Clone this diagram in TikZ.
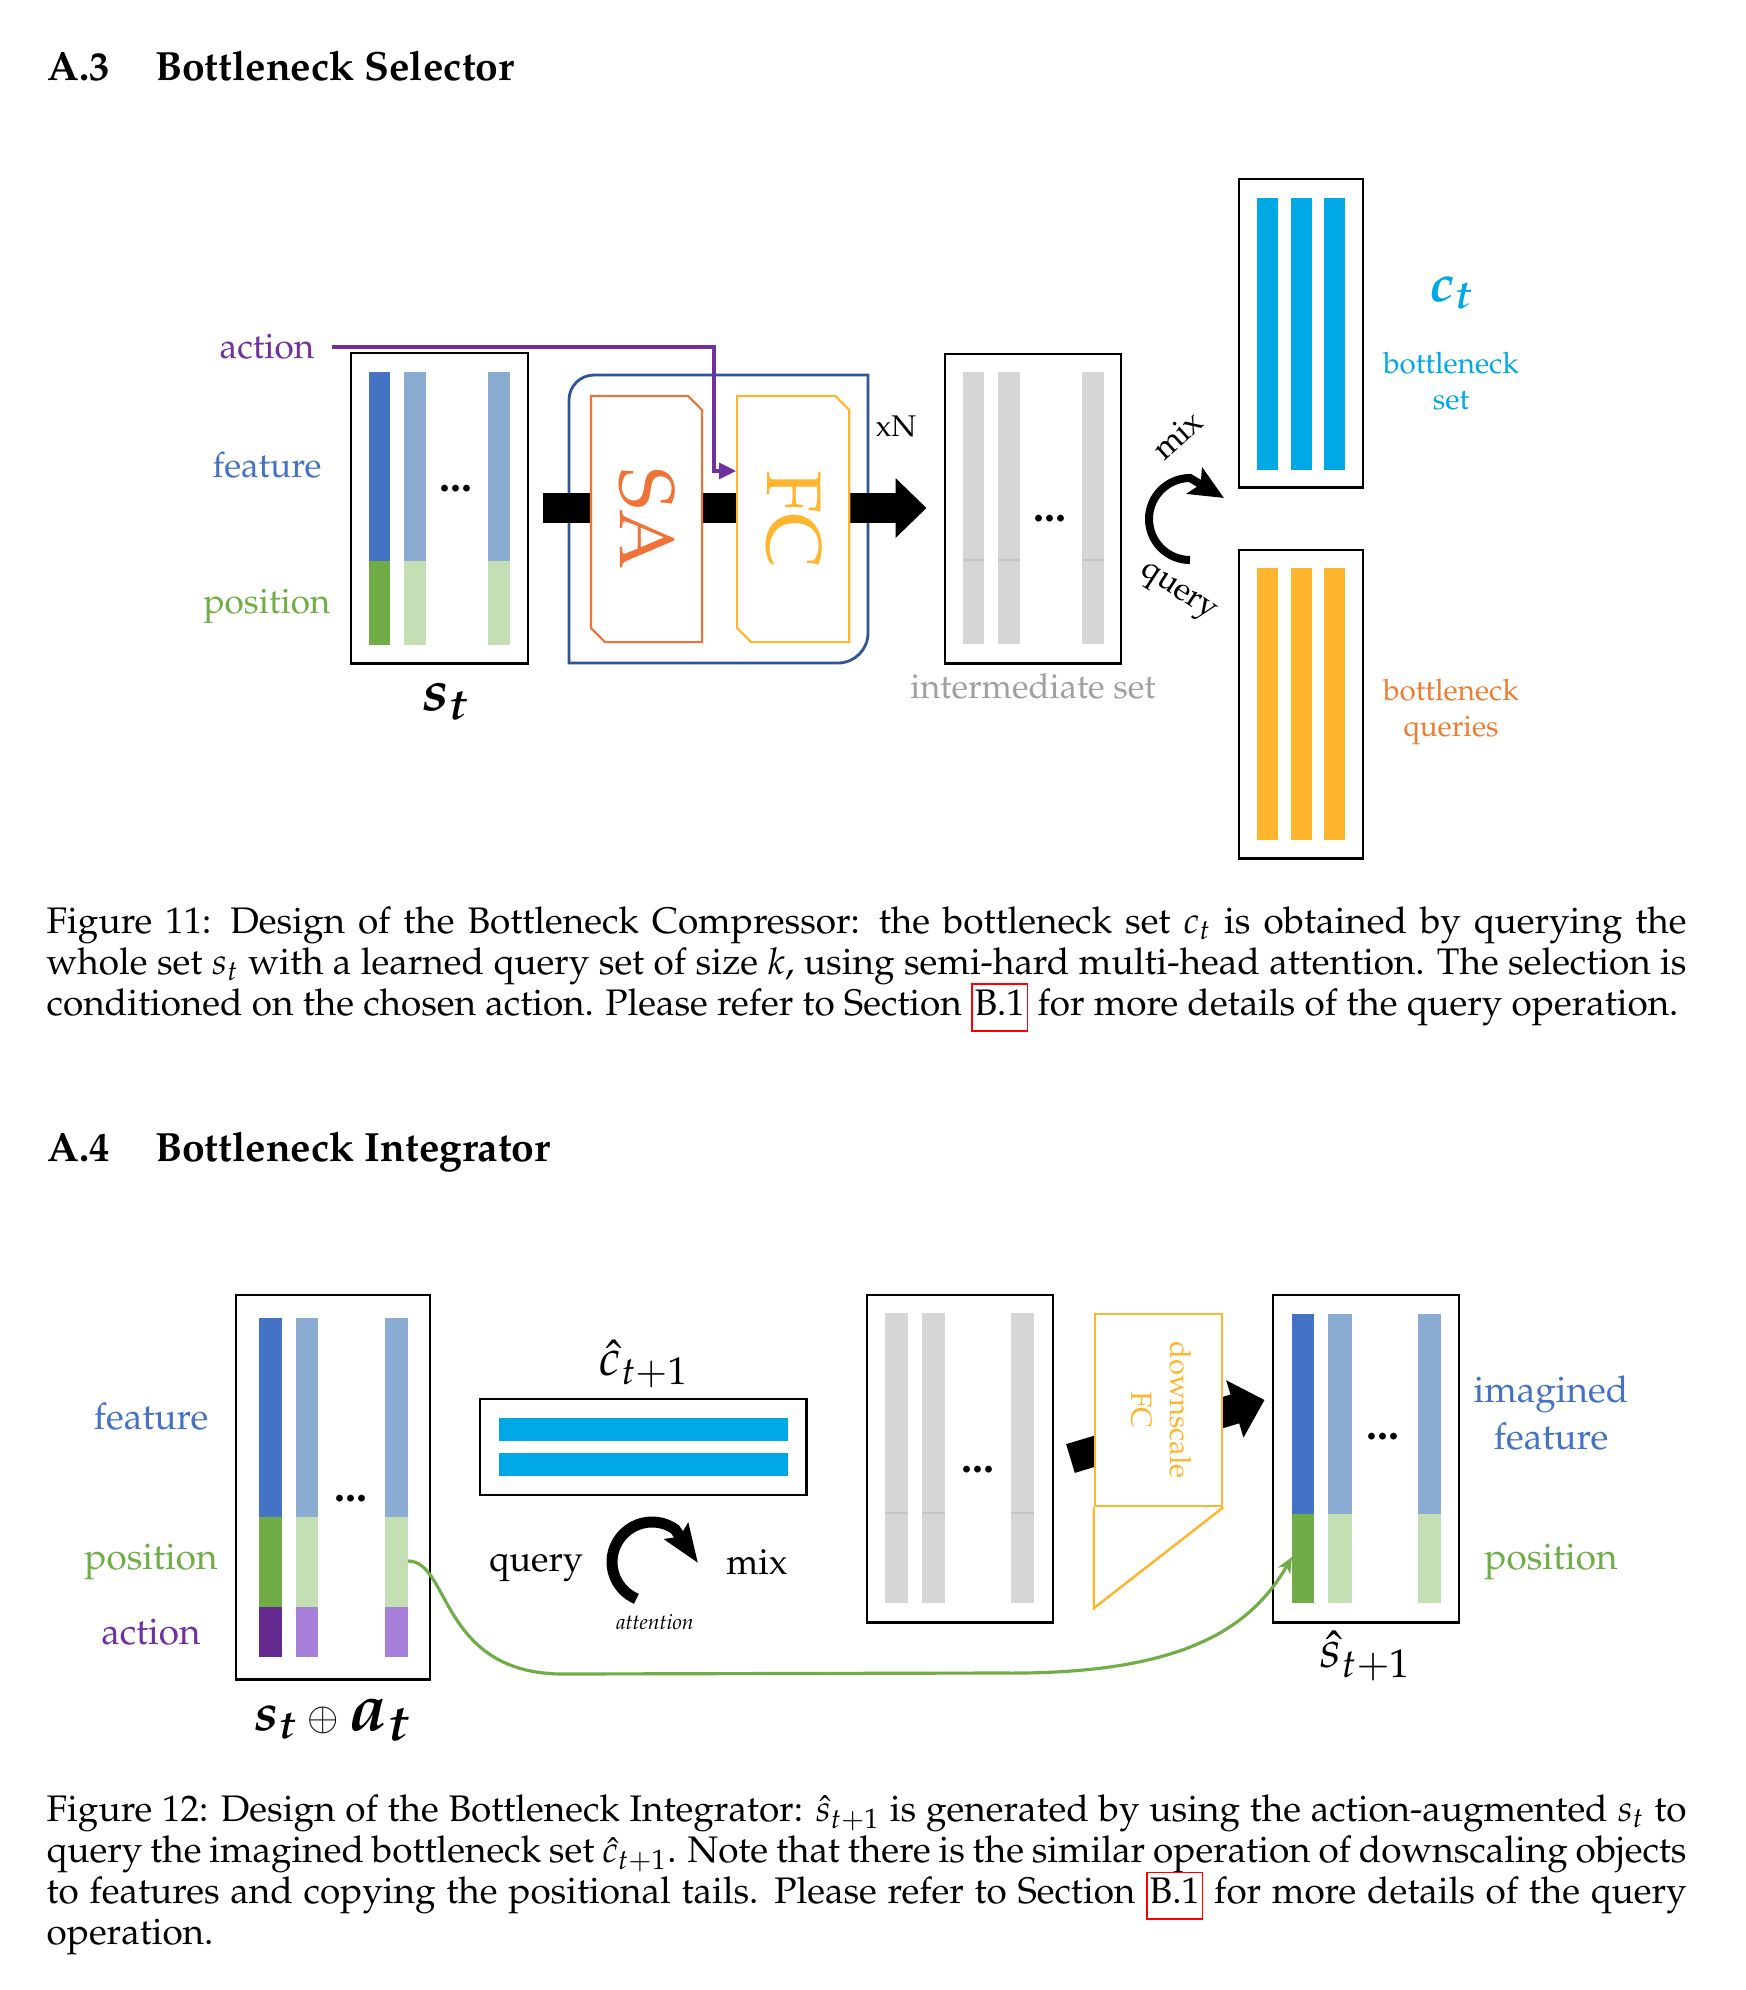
\documentclass[tikz,border=0pt]{standalone}
\usepackage[T1]{fontenc}
\usepackage{mathpazo}
\usepackage{amsmath}
\usetikzlibrary{positioning,arrows.meta,shapes.misc}

\definecolor{featdark}{HTML}{4472C4}
\definecolor{featlight}{HTML}{8AACD2}
\definecolor{posdark}{HTML}{70AD47}
\definecolor{poslight}{HTML}{C5DFB4}
\definecolor{actdark}{HTML}{652A8F}
\definecolor{actlight}{HTML}{A880DA}
\definecolor{actline}{HTML}{7030A0}
\definecolor{cyanset}{HTML}{00A8E6}
\definecolor{qorange}{HTML}{FFB52E}
\definecolor{saorange}{HTML}{F07236}
\definecolor{txtorange}{HTML}{ED7D31}
\definecolor{loopblue}{HTML}{2F5597}
\definecolor{barg}{HTML}{D6D6D6}
\definecolor{barline}{HTML}{C4C4C4}
\definecolor{txtgray}{HTML}{A0A0A0}

\newcommand{\redref}[1]{{\setlength{\fboxsep}{0.5pt}\setlength{\fboxrule}{0.5pt}\smash{\fcolorbox{red}{white}{\strut#1}}}}

\begin{document}
\begin{tikzpicture}[
    x=0.01cm, y=0.01cm,
    node distance=0.2cm,
    setbox/.style={
        draw=black,
        line width=0.8pt,
        inner sep=0pt
    },
    layerbox/.style={
        chamfered rectangle,
        chamfered rectangle corners={north east,south west},
        chamfered rectangle xsep=0.07cm,
        chamfered rectangle ysep=0.07cm,
        fill=white,
        line width=0.6pt,
        minimum width=1.11cm,
        minimum height=2.46cm,
        inner sep=0pt
    },
    bigarrow/.style={
        line width=0.3cm,
        -{Triangle[length=0.31cm,width=0.58cm]}
    },
    lbl/.style={
        inner sep=0pt,
        font=\fontsize{10}{12}\selectfont
    },
    lblb/.style={
        inner sep=0pt,
        font=\fontsize{10.5}{13.4}\selectfont
    },
    caption/.style={
        anchor=north west,
        inner sep=0pt,
        text width=16.39cm,
        align=justify,
        font=\fontsize{10.5}{11.7}\selectfont
    },
    heading/.style={
        anchor=base west,
        inner sep=0pt,
        font=\fontsize{11.6}{14}\selectfont\bfseries
    },
    dots/.style={
        inner sep=0pt,
        font=\fontsize{12.5}{14}\selectfont\bfseries
    }
]
\useasboundingbox (0,0) rectangle (1746,-1990);
\fill[white] (0,0) rectangle (1746,-1990);

% A.3
\node[heading] (hsel) at (47,-80) {A.3\hspace{0.45cm}Bottleneck Selector};

% Set s_t
\node[setbox, minimum width=1.77cm, minimum height=3.10cm] (st) at (439.5,-508) {};
\fill[featdark] (369,-372) rectangle (390,-561);
\fill[posdark] (369,-561) rectangle (390,-645);
\foreach \xa/\xb in {404/426,488/510} {
    \fill[featlight] (\xa,-372) rectangle (\xb,-561);
    \fill[poslight] (\xa,-561) rectangle (\xb,-645);
}
\node[dots] (stdots) at (456,-489) {...};
\node[below=0.18cm of st, xshift=0.06cm, inner sep=0pt, font=\fontsize{16.5}{19}\selectfont] (stlab) {$\boldsymbol{s_t}$};

\node[lbl, text=actline, inner sep=1pt] (act) at (267,-347) {action};
\node[lbl, text=featdark] (feat) at (267,-465) {feature};
\node[lbl, text=posdark] (pos) at (267,-606) {position};

% Intermediate set
\node[setbox, minimum width=1.76cm, minimum height=3.09cm] (inter) at (1033,-508.5) {};
\foreach \xa/\xb in {963/984,998/1020,1082/1104} {
    \fill[barg] (\xa,-372) rectangle (\xb,-644);
    \draw[barline, line width=0.3pt] (\xa,-560) -- (\xb,-560);
}
\node[dots] (interdots) at (1050,-519) {...};
\node[below=0.08cm of inter, inner sep=0pt, text=txtgray, font=\fontsize{9.8}{12}\selectfont] (interlab) {intermediate set};

% Loop frame and flow
\draw[loopblue, line width=0.8pt] (569,-663) -- (569,-400) arc (180:90:25) -- (868,-375) -- (868,-633) arc (0:-90:30) -- cycle;
\draw[bigarrow] ([xshift=0.14cm]st.east) -- ([xshift=-0.17cm]st.east -| inter.west);

\node[layerbox, draw=saorange, text=saorange, font=\fontsize{22}{26}\selectfont] (sa) at (646.5,-519) {\rotatebox{-90}{SA}};
\node[layerbox, draw=qorange, text=qorange, font=\fontsize{22}{26}\selectfont, right=0.33cm of sa, minimum width=1.12cm] (fc) {\rotatebox{-90}{FC}};
\node[font=\fontsize{8.5}{10}\selectfont, inner sep=0pt] (xn) at (896,-426) {xN};

% Action input
\coordinate (actbend) at (714,-347);
\draw[actline, line width=0.9pt, shorten <=0.13cm, -{Triangle[length=0.17cm,width=0.16cm]}] (act.east) -- (actbend) |- ([yshift=0.48cm]fc.west);

% Bottleneck set and queries
\node[setbox, minimum width=1.24cm, minimum height=3.08cm] (ct) at (1301,-333) {};
\node[setbox, minimum width=1.24cm, minimum height=3.08cm] (cq) at (1301,-704) {};
\foreach \xa/\xb in {1257/1278,1291/1312,1324/1345} {
    \fill[cyanset] (\xa,-198) rectangle (\xb,-470);
    \fill[qorange] (\xa,-568) rectangle (\xb,-840);
}
\node[inner sep=0pt, text=cyanset, font=\fontsize{15}{18}\selectfont] (ctsym) at (1452,-293) {$\boldsymbol{c_t}$};
\node[inner sep=0pt, align=center, text=cyanset, font=\fontsize{8.4}{10.2}\selectfont] (ctlab) at (1451,-381) {bottleneck\\set};
\node[inner sep=0pt, align=center, text=txtorange, font=\fontsize{8.4}{10.5}\selectfont] (cqlab) at (1451,-712) {bottleneck\\queries};

% Query / mix
\coordinate (mixc) at (1190,-519);
\draw[line width=0.08cm, -{Stealth[length=0.34cm,width=0.3cm,inset=0.07cm]}] (1190,-560) arc (270:90:41) -- (1224,-498);
\node[rotate=42, inner sep=0pt, font=\fontsize{9.3}{11}\selectfont] (mixtop) at (1177,-435) {mix};
\node[rotate=-33, inner sep=0pt, font=\fontsize{9.3}{11}\selectfont] (querytop) at (1177,-594) {query};

% Caption 11
\node[caption] (cap11) at (46,-904) {\strut Figure 11: Design of the Bottleneck Compressor: the bottleneck set $c_t$ is obtained by querying the\linebreak whole set $s_t$ with a learned query set of size $k$, using semi-hard multi-head attention. The selection is\linebreak conditioned on the chosen action. Please refer to Section \redref{B.1} for more details of the query operation.};

% A.4
\node[heading] (hint) at (47,-1161) {A.4\hspace{0.45cm}Bottleneck Integrator};

% Set s_t + a_t
\node[setbox, minimum width=1.94cm, minimum height=3.84cm] (sat) at (333,-1487) {};
\fill[featdark] (259,-1318) rectangle (282,-1517);
\fill[posdark] (259,-1517) rectangle (282,-1607);
\fill[actdark] (259,-1607) rectangle (282,-1657);
\foreach \xa/\xb in {296/318,385/408} {
    \fill[featlight] (\xa,-1318) rectangle (\xb,-1517);
    \fill[poslight] (\xa,-1517) rectangle (\xb,-1607);
    \fill[actlight] (\xa,-1607) rectangle (\xb,-1657);
}
\node[dots] (satdots) at (351,-1499) {...};
\node[inner sep=0pt, font=\fontsize{15}{18}\selectfont] (satlab) at (333,-1720) {$\boldsymbol{s_t}$\,{\fontsize{11}{13}\selectfont$\oplus$}\,{\fontsize{19}{22}\selectfont$\boldsymbol{a_t}$}};
\node[lblb, text=featdark] (featb) at (151,-1417) {feature};
\node[lblb, text=posdark] (posb) at (151,-1562) {position};
\node[lblb, text=actline] (actb) at (151,-1632) {action};

% Imagined bottleneck set
\node[setbox, minimum width=3.26cm, minimum height=0.96cm] (chat) at (643,-1447) {};
\fill[cyanset] (499,-1418) rectangle (788,-1441);
\fill[cyanset] (499,-1453) rectangle (788,-1476);
\node[inner sep=0pt, font=\fontsize{14.5}{17}\selectfont] (chatlab) at (644,-1364) {$\hat{c}_{t+1}$};

\draw[line width=0.11cm, -{Stealth[length=0.38cm,width=0.28cm,inset=0.06cm]}] (636.4,-1598.8) arc (247:55:40) -- (698,-1563);
\node[inner sep=0pt, font=\fontsize{10.3}{12}\selectfont] (queryb) at (536,-1568) {query};
\node[inner sep=0pt, font=\fontsize{10.3}{12}\selectfont] (mixb) at (757,-1562) {mix};
\node[inner sep=0pt, font=\fontsize{6}{7}\selectfont\itshape] (attn) at (655,-1622) {attention};

% Intermediate set and downscale
\node[setbox, minimum width=1.86cm, minimum height=3.27cm] (int2) at (960,-1458.5) {};
\foreach \xa/\xb in {885/908,922/945,1011/1034} {
    \fill[barg] (\xa,-1313) rectangle (\xb,-1603);
    \draw[barline, line width=0.3pt] (\xa,-1513) -- (\xb,-1513);
}
\node[dots] (int2dots) at (978,-1470) {...};

\node[setbox, minimum width=1.86cm, minimum height=3.27cm] (shat) at (1366,-1458.5) {};
\fill[featdark] (1292,-1314) rectangle (1314,-1514);
\fill[posdark] (1292,-1514) rectangle (1314,-1603);
\foreach \xa/\xb in {1328/1352,1418/1441} {
    \fill[featlight] (\xa,-1314) rectangle (\xb,-1514);
    \fill[poslight] (\xa,-1514) rectangle (\xb,-1603);
}
\node[dots] (shatdots) at (1383,-1437) {...};
\node[inner sep=0pt, font=\fontsize{15}{18}\selectfont] (shatlab) at (1366,-1656) {$\hat{s}_{t+1}$};
\node[lblb, align=center, text=featdark] (imfeat) at (1551,-1413) {imagined\\feature};
\node[lblb, text=posdark] (imposr) at (1551,-1562) {position};

\draw[bigarrow] ([xshift=0.16cm]int2.east) -- ([shift={(-0.07cm,0.585cm)}]shat.west);
\node[draw=qorange, fill=white, line width=0.7pt, minimum width=1.27cm, minimum height=1.92cm, inner sep=0pt, text=qorange, font=\fontsize{8.3}{11}\selectfont] (down) at (1158.5,-1410) {\rotatebox{-90}{\begin{tabular}{@{}c@{}}downscale\\FC\end{tabular}}};
\draw[qorange, line width=0.7pt, fill=white] (down.south west) -- ++(0,-101) -- (down.south east);

% Positional tails
\coordinate (tailsrc) at (408,-1561);
\coordinate (taildst) at (1292,-1557);
\draw[posdark, line width=0.9pt, -{Stealth[length=0.16cm,width=0.14cm]}] (tailsrc) .. controls (450,-1561) and (440,-1672) .. (560,-1674) -- (1000,-1673) .. controls (1180,-1675) and (1250,-1630) .. (taildst);

% Caption 12
\node[caption] (cap12) at (46,-1792) {\strut Figure 12: Design of the Bottleneck Integrator: $\hat{s}_{t+1}$ is generated by using the action-augmented $s_t$ to\linebreak query the imagined bottleneck set $\hat{c}_{t+1}$. Note that there is the similar operation of downscaling objects\linebreak to features and copying the positional tails. Please refer to Section \redref{B.1} for more details of the query\linebreak operation.};

\end{tikzpicture}
\end{document}
